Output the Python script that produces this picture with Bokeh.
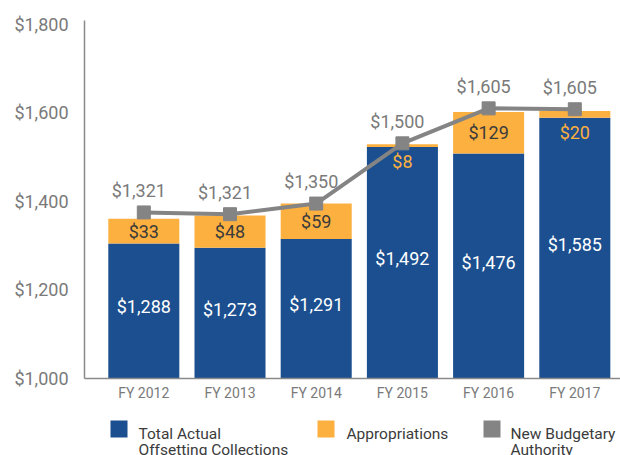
from bokeh.plotting import figure
from bokeh.models import (ColumnDataSource, Range1d, FixedTicker, NumeralTickFormatter)
from bokeh.layouts import column
from bokeh.core.properties import value
from bokeh.embed import file_html
from bokeh.resources import INLINE

# ---- data ----
years = ["FY 2012", "FY 2013", "FY 2014", "FY 2015", "FY 2016", "FY 2017"]
# drawn heights
offsetting = [1305, 1295, 1315, 1523, 1508, 1589]
appropriations = [56, 73, 80, 6, 94, 15]
new_budget_authority = [1375, 1371, 1395, 1531, 1610, 1608]
# printed data labels
offsetting_labels = ["$1,288", "$1,273", "$1,291", "$1,492", "$1,476", "$1,585"]
appropriations_labels = ["$33", "$48", "$59", "$8", "$129", "$20"]
authority_labels = ["$1,321", "$1,321", "$1,350", "$1,500", "$1,605", "$1,605"]
y_ticks = [1000, 1200, 1400, 1600, 1800]
legend_labels = [["Total Actual", "Offsetting Collections"], ["Appropriations"],
                 ["New Budgetary", "Authority"]]

BLUE = "#1b4f8f"
ORANGE = "#fbb040"
GRAY = "#848484"
TEXT_GRAY = "#7a7a7a"
DARK = "#3b3b3b"
FONT = "Roboto"
PX = 358 / 808.4  # pixels per unit on y

W = 620
FRAME_L = 84
xs = list(range(len(years)))
base = 1000

src = ColumnDataSource(dict(
    x=xs,
    blue=offsetting,
    orange_top=[b + a for b, a in zip(offsetting, appropriations)],
    line=new_budget_authority,
    blue_lab=offsetting_labels,
    blue_lab_y=[(base + b) / 2 + 4 / PX for b in offsetting],
    app_lab=appropriations_labels,
    app_lab_y=[(b + a / 2) if a >= 30 else (b - 15 / PX) for b, a in zip(offsetting, appropriations)],
    app_lab_col=[DARK if a >= 30 else ORANGE for a in appropriations],
    line_lab=authority_labels,
))

p = figure(width=W, height=405, output_backend="svg", toolbar_location=None,
           x_range=Range1d(-0.688, 5.53), y_range=Range1d(1000, 1808.4),
           min_border_left=FRAME_L, min_border_right=0, min_border_top=20, min_border_bottom=27)
p.outline_line_color = None
p.grid.visible = False
p.background_fill_color = "white"
p.border_fill_color = "white"

p.vbar(x="x", width=0.824, bottom=base, top="blue", source=src, color=BLUE, line_color=None)
p.vbar(x="x", width=0.824, bottom="blue", top="orange_top", source=src, color=ORANGE, line_color=None)
p.line(x="x", y="line", source=src, line_color=GRAY, line_width=4)
p.scatter(x="x", y="line", source=src, marker="square", size=13, color=GRAY)

p.text(x="x", y="blue_lab_y", text="blue_lab", source=src, text_color="white",
       text_font=value(FONT), text_font_size="18px", text_align="center", text_baseline="middle")
p.text(x="x", y="app_lab_y", text="app_lab", source=src, text_color="app_lab_col",
       text_font=value(FONT), text_font_size="18px", text_align="center", text_baseline="middle")
p.text(x="x", y="line", text="line_lab", source=src, text_color=TEXT_GRAY, x_offset=-5, y_offset=-22,
       text_font=value(FONT), text_font_size="18px", text_align="center", text_baseline="middle")

yax = p.yaxis[0]
yax.ticker = FixedTicker(ticks=y_ticks)
yax.formatter = NumeralTickFormatter(format="$0,0")
yax.major_label_text_font = FONT
yax.major_label_text_font_size = "18px"
yax.major_label_text_color = TEXT_GRAY
yax.major_tick_out = 0
yax.major_tick_in = 0
yax.minor_tick_out = 0
yax.minor_tick_in = 0
yax.axis_line_color = "#8a8a8a"
yax.axis_line_width = 1.5
yax.major_label_standoff = 16

xax = p.xaxis[0]
xax.ticker = FixedTicker(ticks=xs)
xax.major_label_overrides = {i: y for i, y in zip(xs, years)}
xax.major_label_text_font = FONT
xax.major_label_text_font_size = "14px"
xax.major_label_text_color = TEXT_GRAY
xax.major_tick_out = 0
xax.major_tick_in = 0
xax.minor_tick_out = 0
xax.minor_tick_in = 0
xax.axis_line_color = "#8a8a8a"
xax.axis_line_width = 1.5
xax.major_label_standoff = 6

# ---- legend (separate strip below; frame aligned with the chart's frame) ----
LG_H = 50
lg = figure(width=W, height=LG_H, output_backend="svg", toolbar_location=None,
            x_range=Range1d(FRAME_L, W), y_range=Range1d(LG_H, 0),
            x_axis_location=None, y_axis_location=None,
            min_border=0, min_border_left=FRAME_L, min_border_right=0,
            min_border_top=0, min_border_bottom=0)
lg.outline_line_color = None
lg.grid.visible = False

sw_x = [118.5, 325.5, 491.5]
txt_x = [138, 346, 510]
sw_col = [BLUE, ORANGE, GRAY]
lg.rect(x=sw_x, y=[23.5] * 3, width=17, height=17, color=sw_col, line_color=None)
tx, ty, tt = [], [], []
for x0, lines in zip(txt_x, legend_labels):
    for k, line in enumerate(lines):
        tx.append(x0)
        ty.append(28.5 + 16 * k)
        tt.append(line)
lg.text(x=tx, y=ty, text=tt, text_color=DARK, text_font=value(FONT), text_font_size="15.5px",
        text_align="left", text_baseline="alphabetic")

layout = column(p, lg, spacing=0)
open("out.html", "w").write(file_html(layout, INLINE))
